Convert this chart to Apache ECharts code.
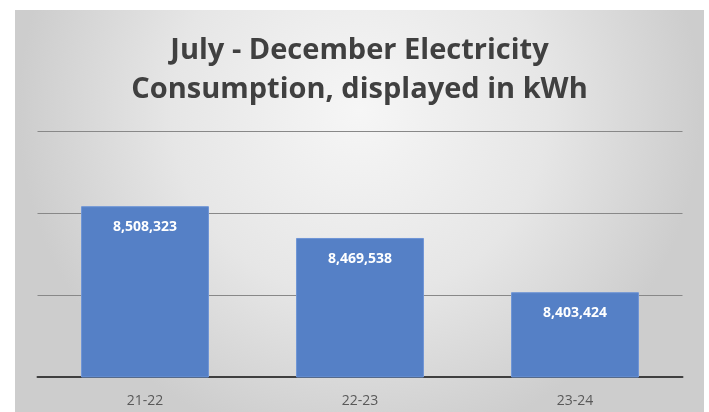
<!DOCTYPE html>
<html>
<head>
<meta charset="utf-8">
<script src="https://cdn.jsdelivr.net/npm/echarts@6/dist/echarts.min.js"></script>
<style>
  html, body { margin: 0; padding: 0; background: #ffffff; }
  #chart { position: absolute; left: 15px; top: 10px; width: 689px; height: 402px; }
</style>
</head>
<body>
<div id="chart"></div>
<script>
const seasons = ['21-22', '22-23', '23-24'];
const consumption = [8508323, 8469538, 8403424];
const axisMin = 8300000;
const axisMax = 8600000;
const axisStep = 100000;

const chart = echarts.init(document.getElementById('chart'));

chart.setOption({
  backgroundColor: new echarts.graphic.RadialGradient(0.5, 0.25, 0.85, [
    { offset: 0, color: '#f6f6f6' },
    { offset: 0.55, color: '#e6e6e6' },
    { offset: 1, color: '#cdcdcd' }
  ]),
  title: {
    text: 'July - December Electricity\nConsumption, displayed in kWh',
    left: 'center',
    top: 16,
    textStyle: {
      fontFamily: 'Open Sans',
      fontWeight: 'bold',
      fontSize: 29,
      lineHeight: 39,
      color: '#404040'
    }
  },
  grid: { left: 22.5, right: 21.5, top: 121, bottom: 35 },
  xAxis: {
    type: 'category',
    data: seasons,
    axisTick: { show: false },
    axisLine: { lineStyle: { color: '#3f3f3f', width: 2 } },
    axisLabel: { color: '#595959', fontSize: 14, fontFamily: 'Open Sans', margin: 17 }
  },
  yAxis: {
    type: 'value',
    min: axisMin,
    max: axisMax,
    interval: axisStep,
    axisLabel: { show: false },
    axisLine: { show: false },
    axisTick: { show: false },
    splitLine: { lineStyle: { color: '#888888', width: 1 } }
  },
  series: [{
    type: 'bar',
    data: consumption,
    barWidth: '59.5%',
    itemStyle: { color: '#5580c6', borderColor: '#6f95d6', borderWidth: 1 },
    z: 1,
    label: {
      show: true,
      position: 'insideTop',
      distance: 14,
      color: '#ffffff',
      fontFamily: 'Open Sans',
      fontWeight: 'bold',
      fontSize: 14,
      formatter: p => p.value.toLocaleString('en-US')
    }
  }]
});
</script>
</body>
</html>
